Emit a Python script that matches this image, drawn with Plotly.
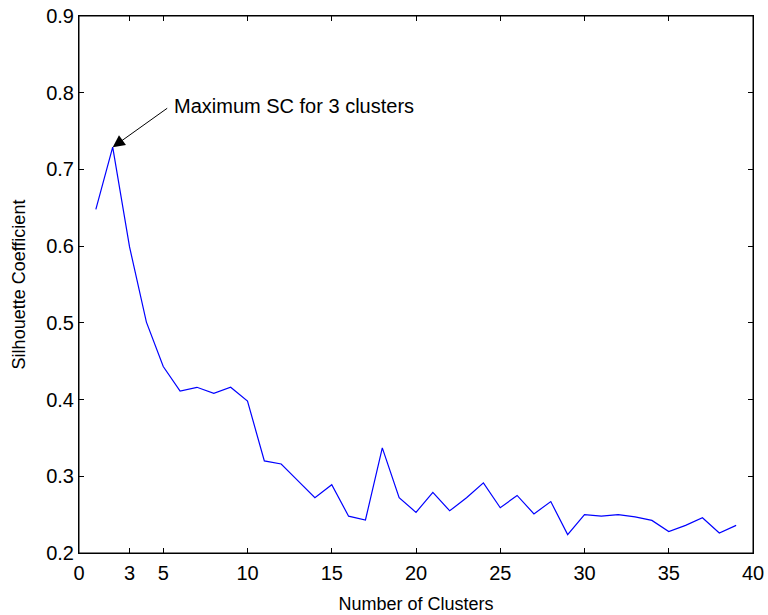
import plotly.graph_objects as go

clusters = list(range(1, 40))
silhouette = [0.648, 0.729, 0.599, 0.501, 0.443, 0.411, 0.416, 0.408, 0.416, 0.398,
              0.320, 0.316, 0.294, 0.272, 0.289, 0.248, 0.243, 0.337, 0.272, 0.253,
              0.279, 0.255, 0.272, 0.2915, 0.259, 0.275, 0.251, 0.267, 0.224, 0.250,
              0.248, 0.250, 0.247, 0.2425, 0.228, 0.236, 0.246, 0.226, 0.236]
x_ticks = [0, 3, 5, 10, 15, 20, 25, 30, 35, 40]
y_ticks = [0.2, 0.3, 0.4, 0.5, 0.6, 0.7, 0.8, 0.9]

peak_i = silhouette.index(max(silhouette))
peak_x, peak_y = clusters[peak_i], silhouette[peak_i]

FONT = "Liberation Sans, Arial, sans-serif"

fig = go.Figure()
fig.add_trace(go.Scatter(x=clusters, y=silhouette, mode="lines",
                         line=dict(color="#0000ff", width=1.2), showlegend=False))

axis_common = dict(showline=True, linecolor="black", linewidth=1, mirror="ticks",
                   ticks="inside", ticklen=5, tickcolor="black", tickwidth=1,
                   showgrid=False, zeroline=False, automargin=False,
                   ticklabeloverflow="allow",
                   tickfont=dict(family=FONT, size=20, color="black"))

fig.update_xaxes(range=[0, 40], tickvals=x_ticks, ticktext=[str(v) for v in x_ticks],
                 ticklabelstandoff=2,
                 title=dict(text="Number of Clusters", font=dict(family=FONT, size=18, color="black"),
                            standoff=14),
                 **axis_common)
fig.update_yaxes(range=[0.2, 0.9], tickvals=y_ticks, ticktext=[f"{v:.1f}" for v in y_ticks],
                 title=dict(text="Silhouette Coefficient", font=dict(family=FONT, size=18, color="black"),
                            standoff=15),
                 **axis_common)

# frame around the plotting area
fig.add_shape(type="rect", xref="paper", yref="paper", x0=0, y0=0, x1=1, y1=1,
              line=dict(color="black", width=1), fillcolor="rgba(0,0,0,0)", layer="above")

# arrow
fig.add_annotation(x=peak_x, y=peak_y, xref="x", yref="y", text="",
                   showarrow=True, ax=56, ay=-40, arrowhead=2, arrowsize=2.4,
                   arrowwidth=1, arrowcolor="black", standoff=0)
# label
fig.add_annotation(x=peak_x, y=peak_y, xref="x", yref="y",
                   text="Maximum SC for 3 clusters", showarrow=False,
                   xanchor="left", yanchor="middle", xshift=59, yshift=41,
                   font=dict(family=FONT, size=20, color="black"))

fig.update_layout(width=768, height=615, paper_bgcolor="white", plot_bgcolor="white",
                  margin=dict(l=79, r=15, t=16, b=62), font=dict(family=FONT, color="black"))

# remove the default page margin so the figure fills the 768x615 window exactly
fig.write_html("out.html", config={"displayModeBar": False},
               post_script="document.body.style.margin='0';document.body.style.overflow='hidden';")
